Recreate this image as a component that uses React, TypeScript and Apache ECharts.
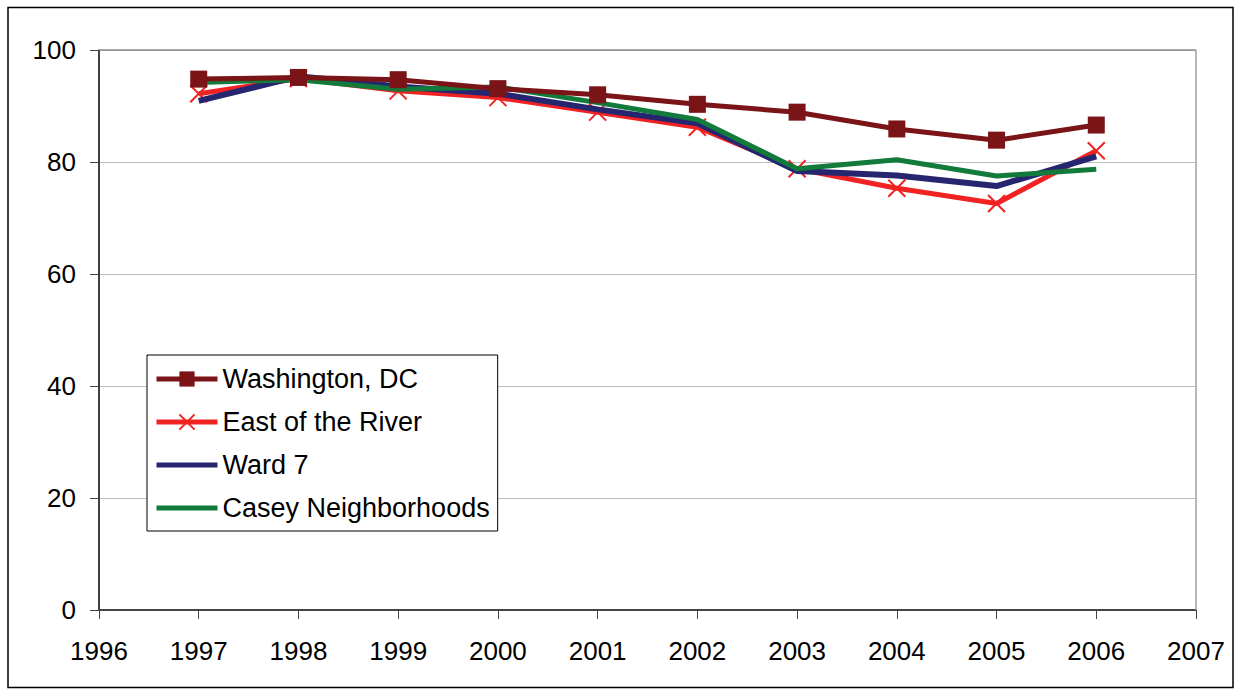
import React, { useEffect, useRef } from "react";
import * as echarts from "echarts";

const years = [1997, 1998, 1999, 2000, 2001, 2002, 2003, 2004, 2005, 2006];
const washingtonDC = [94.8, 95.1, 94.7, 93.1, 92.0, 90.3, 88.9, 85.9, 83.9, 86.6];
const eastOfRiver = [92.2, 94.9, 92.7, 91.5, 88.9, 86.2, 78.8, 75.3, 72.6, 82.0];
const ward7 = [90.9, 95.3, 93.5, 92.2, 89.4, 86.9, 78.4, 77.6, 75.7, 81.0];
const casey = [94.2, 94.7, 93.0, 93.4, 90.6, 87.6, 78.8, 80.4, 77.5, 78.7];

const pairs = (vals: number[]) => years.map((y, i) => [y, vals[i]]);

export default function App() {
  const ref = useRef<HTMLDivElement>(null);
  useEffect(() => {
    if (!ref.current) return;
    const chart = echarts.init(ref.current, null, { renderer: "svg" });
    const font = "'Liberation Sans', Arial, sans-serif";
    chart.setOption({
      animation: false,
      backgroundColor: "#ffffff",
      textStyle: { fontFamily: font },
      grid: { left: 99, top: 50, right: 40, bottom: 81, containLabel: false },
      xAxis: {
        type: "value",
        min: 1996,
        max: 2007,
        interval: 1,
        axisLine: { show: true, onZero: false, lineStyle: { color: "#444", width: 2 } },
        axisTick: { show: true, length: 9, lineStyle: { color: "#444", width: 1 } },
        axisLabel: { fontSize: 26, color: "#000", margin: 28, fontFamily: font, formatter: (v: number) => String(v) },
        splitLine: { show: false },
      },
      yAxis: {
        type: "value",
        min: 0,
        max: 100,
        interval: 20,
        axisLine: { show: true, lineStyle: { color: "#000", width: 1.5 } },
        axisTick: { show: true, length: 9, lineStyle: { color: "#444", width: 1 } },
        axisLabel: { fontSize: 26, color: "#000", margin: 23, fontFamily: font },
        splitLine: { show: true, lineStyle: { color: "#bdbdbd", width: 1 } },
      },
      legend: {
        orient: "vertical",
        left: 147,
        top: 355,
        backgroundColor: "#fff",
        borderColor: "#000",
        borderWidth: 1,
        padding: [9, 8, 8, 7],
        itemWidth: 61,
        itemHeight: 19,
        itemGap: 13,
        textStyle: { fontSize: 27, color: "#000", lineHeight: 30, fontFamily: font },
        data: [
          { name: "Washington, DC", lineStyle: { width: 5 } },
          { name: "East of the River", lineStyle: { width: 5 } },
          { name: "Ward 7", lineStyle: { width: 5 }, itemStyle: { opacity: 0 } },
          { name: "Casey Neighborhoods", lineStyle: { width: 5 }, itemStyle: { opacity: 0 } },
        ],
      },
      series: [
        {
          name: "Ward 7",
          type: "line",
          data: pairs(ward7),
          symbol: "none",
          lineStyle: { color: "#262670", width: 6 },
          itemStyle: { color: "#262670" },
          z: 3,
        },
        {
          name: "Casey Neighborhoods",
          type: "line",
          data: pairs(casey),
          symbol: "none",
          lineStyle: { color: "#127a3a", width: 5 },
          itemStyle: { color: "#127a3a" },
          z: 4,
        },
        {
          name: "East of the River",
          type: "line",
          data: pairs(eastOfRiver),
          symbol: "path://M0,0L10,10M10,0L0,10",
          symbolSize: 17,
          lineStyle: { color: "#f02222", width: 5 },
          itemStyle: { color: "#f02222", borderColor: "#f02222", borderWidth: 2 },
          z: 2,
        },
        {
          name: "Washington, DC",
          type: "line",
          data: pairs(washingtonDC),
          symbol: "rect",
          symbolSize: 17,
          lineStyle: { color: "#7a1416", width: 5 },
          itemStyle: { color: "#7a1416" },
          z: 5,
        },
      ],
      graphic: [
        {
          type: "rect",
          shape: { x: 8, y: 7.5, width: 1225, height: 680 },
          style: { fill: "none", stroke: "#000", lineWidth: 1.5 },
          z: 100,
        },
        {
          type: "line",
          shape: { x1: 1196, y1: 50, x2: 1196, y2: 610 },
          style: { stroke: "#a0a0a0", lineWidth: 1.5 },
          z: 1,
        },
        {
          type: "line",
          shape: { x1: 99, y1: 50, x2: 1196, y2: 50 },
          style: { stroke: "#8c8c8c", lineWidth: 1.5 },
          z: 1,
        },
      ],
    });
    return () => chart.dispose();
  }, []);
  return <div ref={ref} style={{ position: "fixed", left: 0, top: 0, width: 1236, height: 691 }} />;
}
